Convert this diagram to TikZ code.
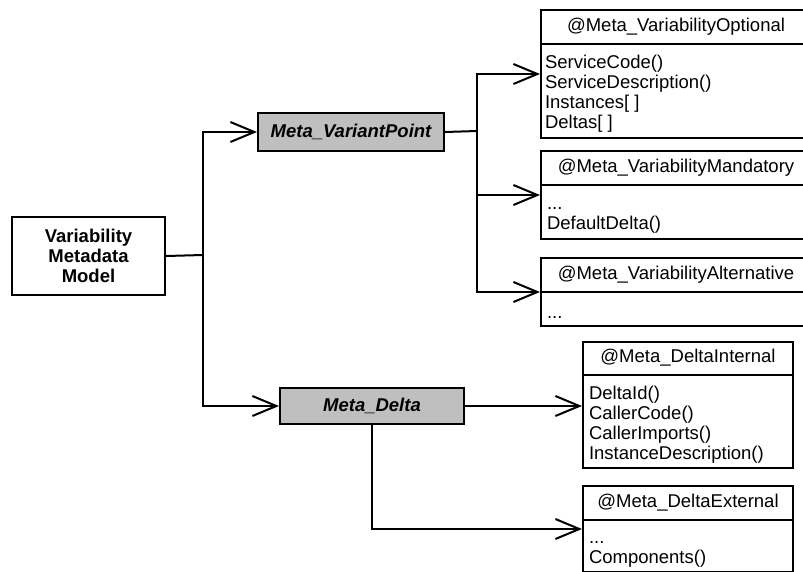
\documentclass[tikz,border=0pt]{standalone}
\usepackage{fontspec}
\setmainfont{Liberation Sans}
\usetikzlibrary{arrows.meta,calc}
\newcommand\firstln{\rule{0pt}{15pt}}
\begin{document}
\begin{tikzpicture}[x=1pt,y=-1pt,line width=2pt,
  fnt/.style={font=\fontsize{18.5}{20}\selectfont},
  bfnt/.style={font=\fontsize{18.5}{20}\selectfont\bfseries},
  bifnt/.style={font=\fontsize{18.5}{20}\selectfont\bfseries\itshape},
  clsbox/.style={draw,anchor=north west,inner sep=0pt,fill=white},
  clstitle/.style={fnt,anchor=north,minimum height=33pt,inner sep=0pt},
  clsbody/.style={fnt,anchor=north west,inner sep=0pt,align=left},
  graybox/.style={draw,fill=black!25,anchor=north west,inner sep=0pt,bifnt},
  arr/.style={-{Straight Barb[length=24pt,width=20pt]}}
]
\useasboundingbox (0,0) rectangle (803,571);

% root
\node[draw,anchor=north west,minimum width=153pt,minimum height=78pt,inner sep=0pt,align=center,bfnt] (vmm) at (11,216) {Variability\\Metadata\\Model};

% gray boxes
\node[graybox,minimum width=186pt,minimum height=38pt] (vp) at (257,112) {Meta\_VariantPoint};
\node[graybox,minimum width=184pt,minimum height=36pt] (delta) at (279,387) {Meta\_Delta};

% class: Optional
\node[clsbox,minimum width=270pt,minimum height=128pt] (opt) at (540,9) {};
\node[clstitle,minimum width=270pt] (optT) at (opt.north) {@Meta\_VariabilityOptional};
\draw (optT.south west) -- (optT.south east);
\node[clsbody] (optL) at ($(optT.south west)+(4,8)$) {\firstln ServiceCode()\\ServiceDescription()\\Instances[ ]\\Deltas[ ]};

% class: Mandatory
\node[clsbox,minimum width=270pt,minimum height=88pt] (man) at (540,150) {};
\node[clstitle,minimum width=270pt] (manT) at (man.north) {@Meta\_VariabilityMandatory};
\draw (manT.south west) -- (manT.south east);
\node[clsbody] (manL) at ($(manT.south west)+(6,8)$) {\firstln ...\\DefaultDelta()};

% class: Alternative
\node[clsbox,minimum width=270pt,minimum height=68pt] (alt) at (540,257) {};
\node[clstitle,minimum width=270pt] (altT) at (alt.north) {@Meta\_VariabilityAlternative};
\draw (altT.south west) -- (altT.south east);
\node[clsbody] (altL) at ($(altT.south west)+(6,10)$) {\firstln ...};

% class: DeltaInternal
\node[clsbox,minimum width=210pt,minimum height=126pt] (din) at (582,341) {};
\node[clstitle,minimum width=210pt,minimum height=32pt] (dinT) at (din.north) {@Meta\_DeltaInternal};
\draw (dinT.south west) -- (dinT.south east);
\node[clsbody] (dinL) at ($(dinT.south west)+(6,8)$) {\firstln DeltaId()\\CallerCode()\\CallerImports()\\InstanceDescription()};

% class: DeltaExternal
\node[clsbox,minimum width=210pt,minimum height=86pt] (dex) at (582,485) {};
\node[clstitle,minimum width=210pt] (dexT) at (dex.north) {@Meta\_DeltaExternal};
\draw (dexT.south west) -- (dexT.south east);
\node[clsbody] (dexL) at ($(dexT.south west)+(6,7)$) {\firstln ...\\Components()};

% connectors
\coordinate (j1) at (203,255);
\draw (vmm.east) -- (j1);
\draw[arr] (j1) |- (vp.west);
\draw[arr] (j1) |- (delta.west);

\coordinate (j2) at (477,131);
\draw (vp.east) -- (j2);
\draw[arr] (j2) |- (opt.west);
\draw[arr] (j2) |- (man.west);
\draw[arr] (j2) |- (alt.west);

\draw[arr] (delta.east) -- (delta.east -| din.west);
\draw[arr] (delta.south) |- (dex.west);
\end{tikzpicture}
\end{document}
